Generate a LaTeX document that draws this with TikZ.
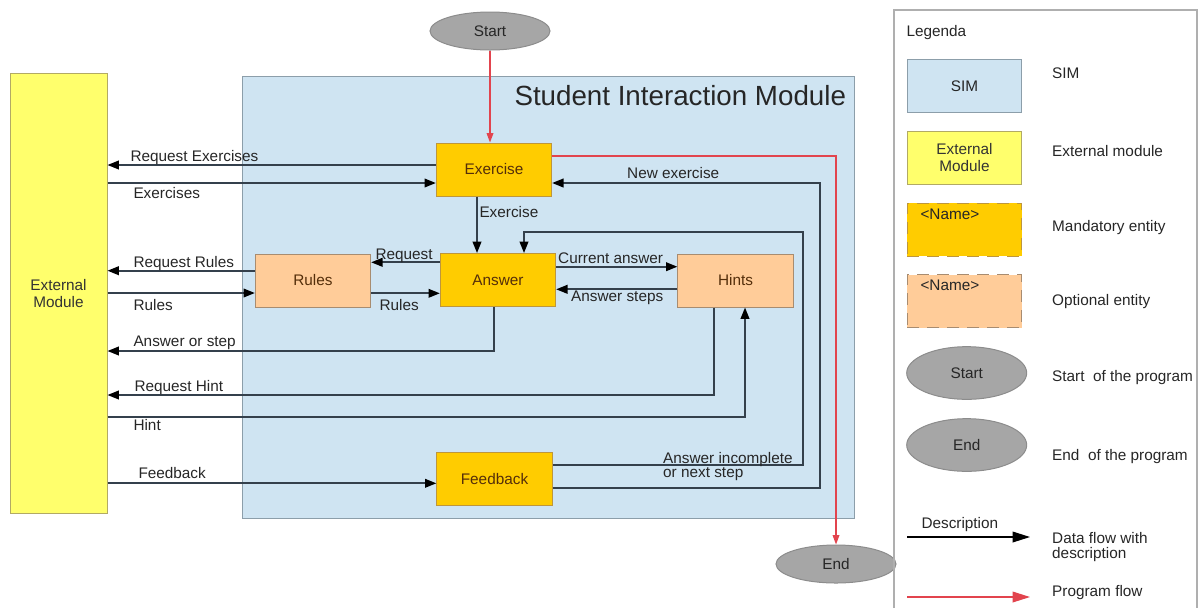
\documentclass[tikz,border=0pt]{standalone}
\usepackage{fontspec}
\setmainfont{Liberation Sans}
\usetikzlibrary{arrows.meta,calc,shapes.geometric}

\definecolor{simfill}{RGB}{207,228,242}
\definecolor{simdraw}{RGB}{140,158,170}
\definecolor{extfill}{RGB}{255,255,108}
\definecolor{extdraw}{RGB}{178,170,100}
\definecolor{mandfill}{RGB}{255,204,0}
\definecolor{manddraw}{RGB}{190,150,60}
\definecolor{optfill}{RGB}{255,204,153}
\definecolor{optdraw}{RGB}{168,140,112}
\definecolor{ellfill}{RGB}{166,166,166}
\definecolor{elldraw}{RGB}{140,140,140}
\definecolor{linecol}{RGB}{52,64,76}
\definecolor{progred}{RGB}{226,68,78}
\definecolor{boxtext}{RGB}{84,46,10}
\definecolor{frame}{RGB}{175,175,175}

\newcommand{\lblfont}{\fontsize{11.5}{12.5}\selectfont}
\newcommand{\titlefont}{\fontsize{20.8}{24}\selectfont}

\tikzset{every picture/.style={line width=0.75pt}}
\tikzset{
  simbox/.style={draw=simdraw,fill=simfill,inner sep=0pt},
  extbox/.style={draw=extdraw,fill=extfill,inner sep=0pt,align=center,font=\lblfont,text=black!80},
  mandbox/.style={draw=manddraw,fill=mandfill,minimum width=86.5pt,minimum height=39.75pt,inner sep=0pt,font=\lblfont,text=boxtext},
  optbox/.style={draw=optdraw,fill=optfill,minimum width=86.5pt,minimum height=39.75pt,inner sep=0pt,font=\lblfont,text=boxtext},
  ellbox/.style={ellipse,draw=elldraw,fill=ellfill,minimum width=90pt,minimum height=28.5pt,inner sep=0pt,font=\lblfont,text=black!85},
  flow/.style={draw=linecol,line width=1.25pt,-{Triangle[length=8.5pt,width=6.5pt,color=black]}},
  progflow/.style={draw=progred,line width=0.9pt,-{Triangle[length=7pt,width=5pt]}},
  lbl/.style={anchor=base west,inner sep=0pt,font=\lblfont,text=black!85},
}

\begin{document}
\begin{tikzpicture}[x=0.75pt,y=0.75pt,yscale=-1,xscale=1]
\useasboundingbox (0,0) rectangle (1198,608);

%Shape: Rectangle [SIM]
\node[simbox,minimum width=459.25pt,minimum height=331.25pt] (sim) at (548.8,297.5) {};
% Text Node
\node[anchor=base west,inner sep=0pt,font=\titlefont,text=black!85] (simtitle) at (514,105) {Student Interaction Module};

%Shape: Rectangle [external]
\node[extbox,minimum width=72.75pt,minimum height=330pt] (ext) at (58.5,293.3) {External\\Module};

%Shape: Ellipse
\node[ellbox] (start) at (490,31) {Start};
\node[ellbox] (finish) at (836,564) {End};

%Shape: Rectangle
\node[mandbox] (exercise) at (494,169.5) {Exercise};
\node[mandbox] (answer) at (498,280) {Answer};
\node[optbox] (rules) at (313,280.5) {Rules};
\node[optbox] (hints) at (735.5,280.5) {Hints};
\node[mandbox] (feedback) at (494.5,478.7) {Feedback};

% connector ends
\coordinate (exout) at ($(exercise.east)+(0,-13.5)$);
\coordinate (reqex) at ($(exercise.west)+(0,-4.5)$);
\coordinate (exin) at ($(exercise.west)+(0,13.5)$);
\coordinate (newex) at ($(exercise.east)+(0,13.5)$);
\coordinate (exdown) at ($(exercise.south)+(-17,0)$);
\coordinate (reqans) at ($(answer.west)+(0,-17.7)$);
\coordinate (rulesans) at ($(answer.west)+(0,13.3)$);
\coordinate (curans) at ($(answer.east)+(0,-13.3)$);
\coordinate (stepans) at ($(answer.east)+(0,9.3)$);
\coordinate (ansdown) at ($(answer.south)+(-4,0)$);
\coordinate (ansin) at ($(answer.north)+(26,0)$);
\coordinate (reqrules) at ($(rules.west)+(0,-9.8)$);
\coordinate (rulesin) at ($(rules.west)+(0,12.5)$);
\coordinate (hintout) at ($(hints.south)+(-21.5,0)$);
\coordinate (hintin) at ($(hints.south)+(9.5,0)$);
\coordinate (fbup) at ($(feedback.east)+(0,-13.7)$);
\coordinate (fbnew) at ($(feedback.east)+(0,9.6)$);
\coordinate (fbin) at ($(feedback.west)+(0,4.6)$);
\coordinate (looptop) at (803,232);
\coordinate (loopright) at (820,183);
\coordinate (aosrow) at (0,351);
\coordinate (rhrow) at (0,395);
\coordinate (hrow) at (0,417);

%Program flow
\draw[progflow] (start.south) -- (start.south |- exercise.north);
\draw[progflow] (exout) -| (finish.north);

%Straight Lines
\draw[flow] (reqex) -- (reqex -| ext.east);
\draw[flow] (exin -| ext.east) -- (exin);
\draw[flow] (exdown) -- (exdown |- answer.north);
\draw[flow] (reqrules) -- (reqrules -| ext.east);
\draw[flow] (rulesin -| ext.east) -- (rulesin);
\draw[flow] (reqans) -- (reqans -| rules.east);
\draw[flow] (rulesans -| rules.east) -- (rulesans);
\draw[flow] (curans) -- (curans -| hints.west);
\draw[flow] (stepans -| hints.west) -- (stepans);
\draw[flow] (ansdown) |- (aosrow -| ext.east);
\draw[flow] (hintout) |- (rhrow -| ext.east);
\draw[flow] (hrow -| ext.east) -| (hintin);
\draw[flow] (fbin -| ext.east) -- (fbin);
\draw[flow] (fbup) -| (looptop) -| (ansin);
\draw[flow] (fbnew) -| (newex -| loopright) -- (newex);

% Text Node
\node[lbl] (lreqex) at (130,161) {Request Exercises};
\node[lbl] (lexin) at (133,198) {Exercises};
\node[lbl] (lreqrules) at (133,267) {Request Rules};
\node[lbl] (lrulesin) at (133,310) {Rules};
\node[lbl] (lreqans) at (375,259) {Request};
\node[lbl] (lrulesans) at (379,310) {Rules};
\node[lbl] (lexdown) at (479,217) {Exercise};
\node[lbl] (lnewex) at (626.7,178) {New exercise};
\node[lbl] (lcurans) at (557.7,263) {Current answer};
\node[lbl] (lstepans) at (570.7,301.7) {Answer steps};
\node[lbl] (laos) at (133,346) {Answer or step};
\node[lbl] (lreqhint) at (134,391.7) {Request Hint};
\node[lbl] (lhint) at (133,430.7) {Hint};
\node[lbl] (lfbin) at (138,478) {Feedback};
\node[anchor=north west,inner sep=0pt,align=left,font=\fontsize{11.5}{10.5}\selectfont,text=black!85] (lfbup) at (662.7,451.5) {Answer incomplete\\or next step};

%Legend
\draw[draw=frame,line width=0.8pt] (894,608) -- (894,10) -- (1197,10) -- (1197,608);
\node[lbl] (lgtitle) at (906,36.7) {Legenda};
\node[simbox,minimum width=85.8pt,minimum height=39.5pt,font=\lblfont,text=black!85] (lgsim) at (964.5,86.3) {SIM};
\node[lbl] (lgsimtxt) at (1051.7,78.3) {SIM};
\node[extbox,minimum width=85.8pt,minimum height=39.5pt] (lgext) at (964.5,157.8) {External\\Module};
\node[lbl] (lgexttxt) at (1051.7,156.7) {External module};
\node[mandbox,dash pattern=on 9pt off 6pt,minimum width=85.8pt,minimum height=39.5pt] (lgmand) at (964.5,229.7) {};
\node[lbl] (lgmandname) at (920,219) {<Name>};
\node[lbl] (lgmandtxt) at (1051.7,231.7) {Mandatory entity};
\node[optbox,dash pattern=on 9pt off 6pt,minimum width=85.8pt,minimum height=39.5pt] (lgopt) at (964.5,301.2) {};
\node[lbl] (lgoptname) at (920,290) {<Name>};
\node[lbl] (lgopttxt) at (1051.7,305) {Optional entity};
\node[ellbox,minimum height=39.5pt] (lgstart) at (966.7,373) {Start};
\node[lbl] (lgstarttxt) at (1051.7,381.7) {Start\ \ of the program};
\node[ellbox,minimum height=39.5pt] (lgend) at (966.7,445) {End};
\node[lbl] (lgendtxt) at (1051.7,460.7) {End\ \ of the program};
\coordinate (lgdA) at (907,537);
\coordinate (lgdB) at (1030,537);
\draw[draw=black,line width=1pt,-{Triangle[length=13pt,width=8pt]}] (lgdA) -- (lgdB);
\node[lbl] (lgdesc) at (921,528) {Description};
\node[anchor=north west,inner sep=0pt,align=left,font=\fontsize{11.5}{11.25}\selectfont,text=black!85] (lgdatatxt) at (1051.7,531.8) {Data flow with\\description};
\coordinate (lgpA) at (907,597);
\coordinate (lgpB) at (1030,597);
\draw[draw=progred,line width=1pt,-{Triangle[length=13pt,width=8pt]}] (lgpA) -- (lgpB);
\node[lbl] (lgprogtxt) at (1051.7,596.5) {Program flow};

\end{tikzpicture}
\end{document}
